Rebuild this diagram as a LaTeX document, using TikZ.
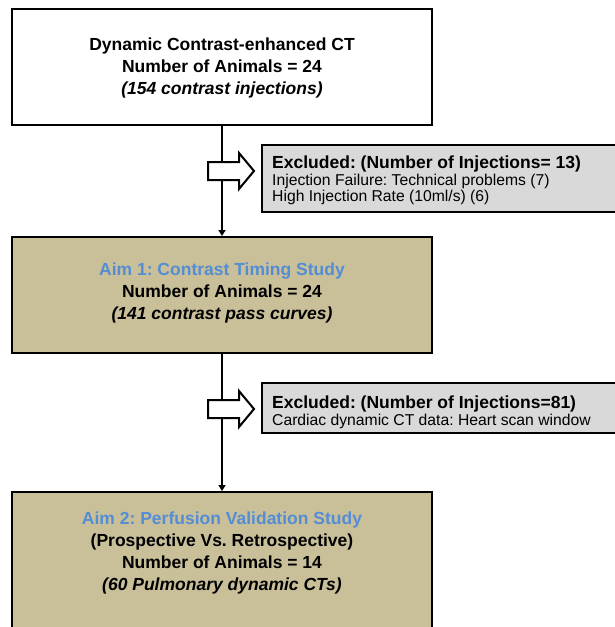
\documentclass[tikz,border=0pt]{standalone}
\usepackage{fontspec}
\setmainfont{Liberation Sans}
\frenchspacing
\usetikzlibrary{arrows.meta}
\definecolor{tan}{RGB}{201,192,154}
\definecolor{exgray}{RGB}{217,217,217}
\definecolor{aimblue}{RGB}{84,141,212}
\tikzset{
  box/.style={draw=black, line width=2pt, minimum width=420pt, inner sep=0pt},
  whitebox/.style={box, fill=white},
  tanbox/.style={box, fill=tan},
  exbox/.style={draw=black, line width=2pt, fill=exgray, inner sep=0pt},
  maintext/.style={align=center, font=\bfseries\fontsize{17.5}{22}\selectfont, inner sep=0pt},
  exhead/.style={anchor=base west, font=\bfseries\fontsize{17.5}{20}\selectfont, inner sep=0pt},
  exline/.style={anchor=base west, font=\fontsize{15.7}{18}\selectfont, inner sep=0pt},
  conn/.style={line width=1.5pt, -{Triangle[width=7pt,length=6pt]}},
  blockarrow/.style={draw=black, line width=2pt, fill=white, line join=miter}
}
\begin{document}
\begin{tikzpicture}[x=1pt,y=-1pt]
\useasboundingbox (0,0) rectangle (614,627);
% main boxes
\node[whitebox, minimum height=116pt] (b1) at (222,67) {};
\node[tanbox, minimum height=116pt] (b2) at (222,295) {};
\node[tanbox, minimum height=148pt] (b3) at (222,566) {};
% texts
\node[maintext] (t1) at (222,68) {Dynamic Contrast-enhanced CT\\Number of Animals = 24\\\itshape(154 contrast injections)};
\node[maintext] (t2) at (222,293) {\textcolor{aimblue}{Aim 1: Contrast Timing Study}\\Number of Animals = 24\\\itshape(141 contrast pass curves)};
\node[maintext] (t3) at (222,553) {\textcolor{aimblue}{Aim 2: Perfusion Validation Study}\\(Prospective Vs. Retrospective)\\Number of Animals = 14\\\itshape(60 Pulmonary dynamic CTs)};
% connectors
\draw[conn] (b1.south) -- (b2.north);
\draw[conn] (b2.south) -- (b3.north);
% excluded boxes
\node[exbox, minimum width=358pt, minimum height=67pt] (e1) at (441,178.5) {};
\node[exbox, minimum width=358pt, minimum height=50pt] (e2) at (441,408) {};
\node[exhead] (e1a) at (272,168) {Excluded: (Number of Injections= 13)};
\node[exline] (e1b) at (272,185.5) {Injection Failure: Technical problems (7)};
\node[exline] (e1c) at (272,201.5) {High Injection Rate (10ml/s) (6)};
\node[exhead] (e2a) at (272,408) {Excluded: (Number of Injections=81)};
\node[exline] (e2b) at (272,425) {Cardiac dynamic CT data: Heart scan window};
% block arrows
\draw[blockarrow] (208,162) -- (239,162) -- (239,153) -- (254,171) -- (239,189) -- (239,180) -- (208,180) -- cycle;
\draw[blockarrow] (208,400) -- (239,400) -- (239,391) -- (254,409) -- (239,427) -- (239,418) -- (208,418) -- cycle;
\end{tikzpicture}
\end{document}
